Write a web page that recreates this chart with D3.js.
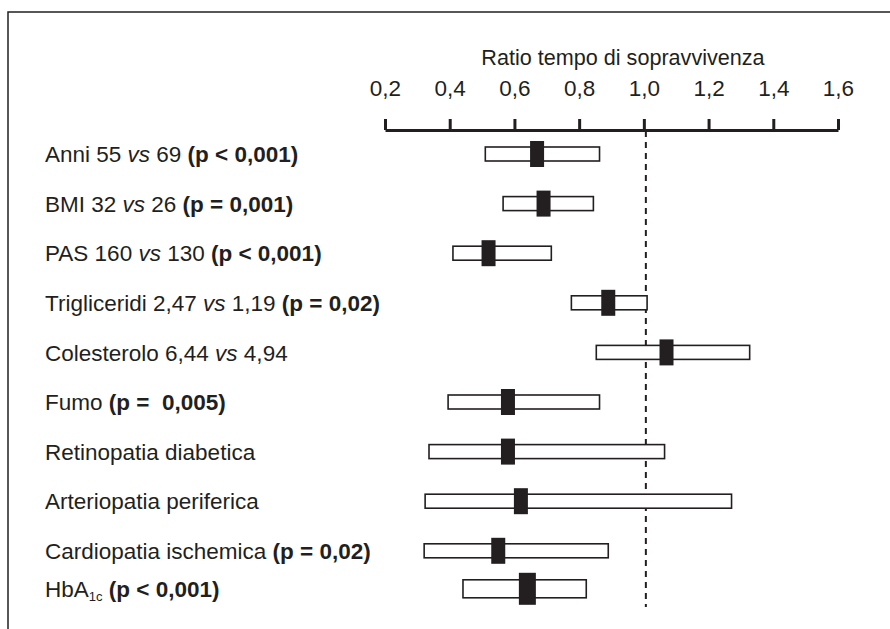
<!DOCTYPE html>
<html>
<head>
<meta charset="utf-8">
<script src="https://cdn.jsdelivr.net/npm/d3@7"></script>
<style>
  body { margin: 0; background: #fff; }
  svg text { font-family: "Liberation Sans", Arial, sans-serif; fill: #231f20; }
</style>
</head>
<body>
<div id="chart"></div>
<script>
// label pieces: [text, style]  ("" normal, "i" italic, "b" bold, "sub" subscript)
var labels = [
    [["Anni 55 ", ""], ["vs", "i"], [" 69 ", ""], ["(p < 0,001)", "b"]],
    [["BMI 32 ", ""], ["vs", "i"], [" 26 ", ""], ["(p = 0,001)", "b"]],
    [["PAS 160 ", ""], ["vs", "i"], [" 130 ", ""], ["(p < 0,001)", "b"]],
    [["Trigliceridi 2,47 ", ""], ["vs", "i"], [" 1,19 ", ""], ["(p = 0,02)", "b"]],
    [["Colesterolo 6,44 ", ""], ["vs", "i"], [" 4,94", ""]],
    [["Fumo ", ""], ["(p =  0,005)", "b"]],
    [["Retinopatia diabetica", ""]],
    [["Arteriopatia periferica", ""]],
    [["Cardiopatia ischemica ", ""], ["(p = 0,02)", "b"]],
    [["HbA", ""], ["1c", "sub"], [" ", ""], ["(p < 0,001)", "b"]]
];
var estimate = [0.67, 0.69, 0.52, 0.89, 1.07, 0.58, 0.58, 0.62, 0.55, 0.64];
var lower    = [0.51, 0.565, 0.41, 0.776, 0.853, 0.395, 0.336, 0.324, 0.321, 0.441];
var upper    = [0.863, 0.844, 0.714, 1.01, 1.327, 0.863, 1.064, 1.271, 0.89, 0.822];
var tickValues = [0.2, 0.4, 0.6, 0.8, 1.0, 1.2, 1.4, 1.6];
var axisTitle = "Ratio tempo di sopravvivenza";

function init(){
    var w = 890;
    var h = 629;
    var n = labels.length;

    var svg = d3.select("#chart")
                .append("svg")
                .attr("width", w)
                .attr("height", h);

    // frame (left + top only)
    svg.append("path")
        .attr("d", "M8," + h + "V12H" + w)
        .attr("fill", "none")
        .attr("stroke", "#231f20")
        .attr("stroke-width", 1.5);

    var x = d3.scaleLinear()
                .domain([0.2, 1.6])
                .range([385, 838]);

    // rows are evenly spaced, the last one sits a bit closer
    var rowY = d3.range(n).map(function(i){
        return i < n - 1 ? 154 + i * 49.6 : 154 + (n - 2) * 49.6 + 38;
    });
    var y = d3.scaleOrdinal()
                .domain(d3.range(n))
                .range(rowY);

    // axis on top
    var axis = d3.axisTop(x)
                .tickValues(tickValues)
                .tickSize(11)
                .tickSizeOuter(0)
                .tickPadding(23)
                .tickFormat(function(d){ return d3.format(".1f")(d).replace(".", ","); });

    var gAxis = svg.append("g")
        .attr("transform", "translate(0,130)")
        .call(axis);
    gAxis.select(".domain")
        .attr("stroke", "#231f20")
        .attr("stroke-width", 3);
    gAxis.selectAll(".tick line")
        .attr("stroke", "#231f20")
        .attr("stroke-width", 3);
    gAxis.selectAll(".tick text")
        .style("font-size", "22.5px")
        .attr("fill", "#231f20");

    svg.append("text")
        .attr("x", 623)
        .attr("y", 65)
        .attr("text-anchor", "middle")
        .style("font-size", "21.6px")
        .text(axisTitle);

    // reference line at 1
    svg.append("line")
        .attr("x1", x(1) + 2)
        .attr("x2", x(1) + 2)
        .attr("y1", 131)
        .attr("y2", 607)
        .attr("stroke", "#231f20")
        .attr("stroke-width", 2)
        .attr("stroke-dasharray", "6,5");

    // labels
    var lab = svg.selectAll(".label")
        .data(labels)
        .enter()
        .append("text")
        .attr("class", "label")
        .attr("x", 45)
        .attr("y", function(d, i){ return y(i); })
        .attr("dy", "0.36em")
        .style("font-size", "22.5px")
        .style("white-space", "pre");

    lab.selectAll("tspan")
        .data(function(d){ return d; })
        .enter()
        .append("tspan")
        .text(function(d){ return d[0]; })
        .style("font-style", function(d){ return d[1] == "i" ? "italic" : null; })
        .style("font-weight", function(d){ return d[1] == "b" ? "bold" : null; })
        .style("font-size", function(d){ return d[1] == "sub" ? "13px" : null; })
        .attr("dy", function(d, i, nodes){
            if(d[1] == "sub") return "4";
            if(i > 0 && d3.select(nodes[i-1]).datum()[1] == "sub") return "-4";
            return null;
        });

    // confidence boxes
    svg.selectAll(".ci")
        .data(estimate)
        .enter()
        .append("rect")
        .attr("class", "ci")
        .attr("x", function(d, i){ return x(lower[i]); })
        .attr("width", function(d, i){ return x(upper[i]) - x(lower[i]); })
        .attr("y", function(d, i){ return y(i) - (i == n - 1 ? 9 : 7); })
        .attr("height", function(d, i){ return i == n - 1 ? 18 : 14; })
        .attr("fill", "#fff")
        .attr("stroke", "#231f20")
        .attr("stroke-width", 1.6);

    // point estimates
    svg.selectAll(".est")
        .data(estimate)
        .enter()
        .append("rect")
        .attr("class", "est")
        .attr("x", function(d, i){ return x(d) - (i == n - 1 ? 8.5 : 7); })
        .attr("width", function(d, i){ return i == n - 1 ? 17 : 14; })
        .attr("y", function(d, i){ return y(i) - (i == n - 1 ? 16 : 13); })
        .attr("height", function(d, i){ return i == n - 1 ? 32 : 26; })
        .attr("fill", "#231f20");
}
window.onload = init;
</script>
</body>
</html>
